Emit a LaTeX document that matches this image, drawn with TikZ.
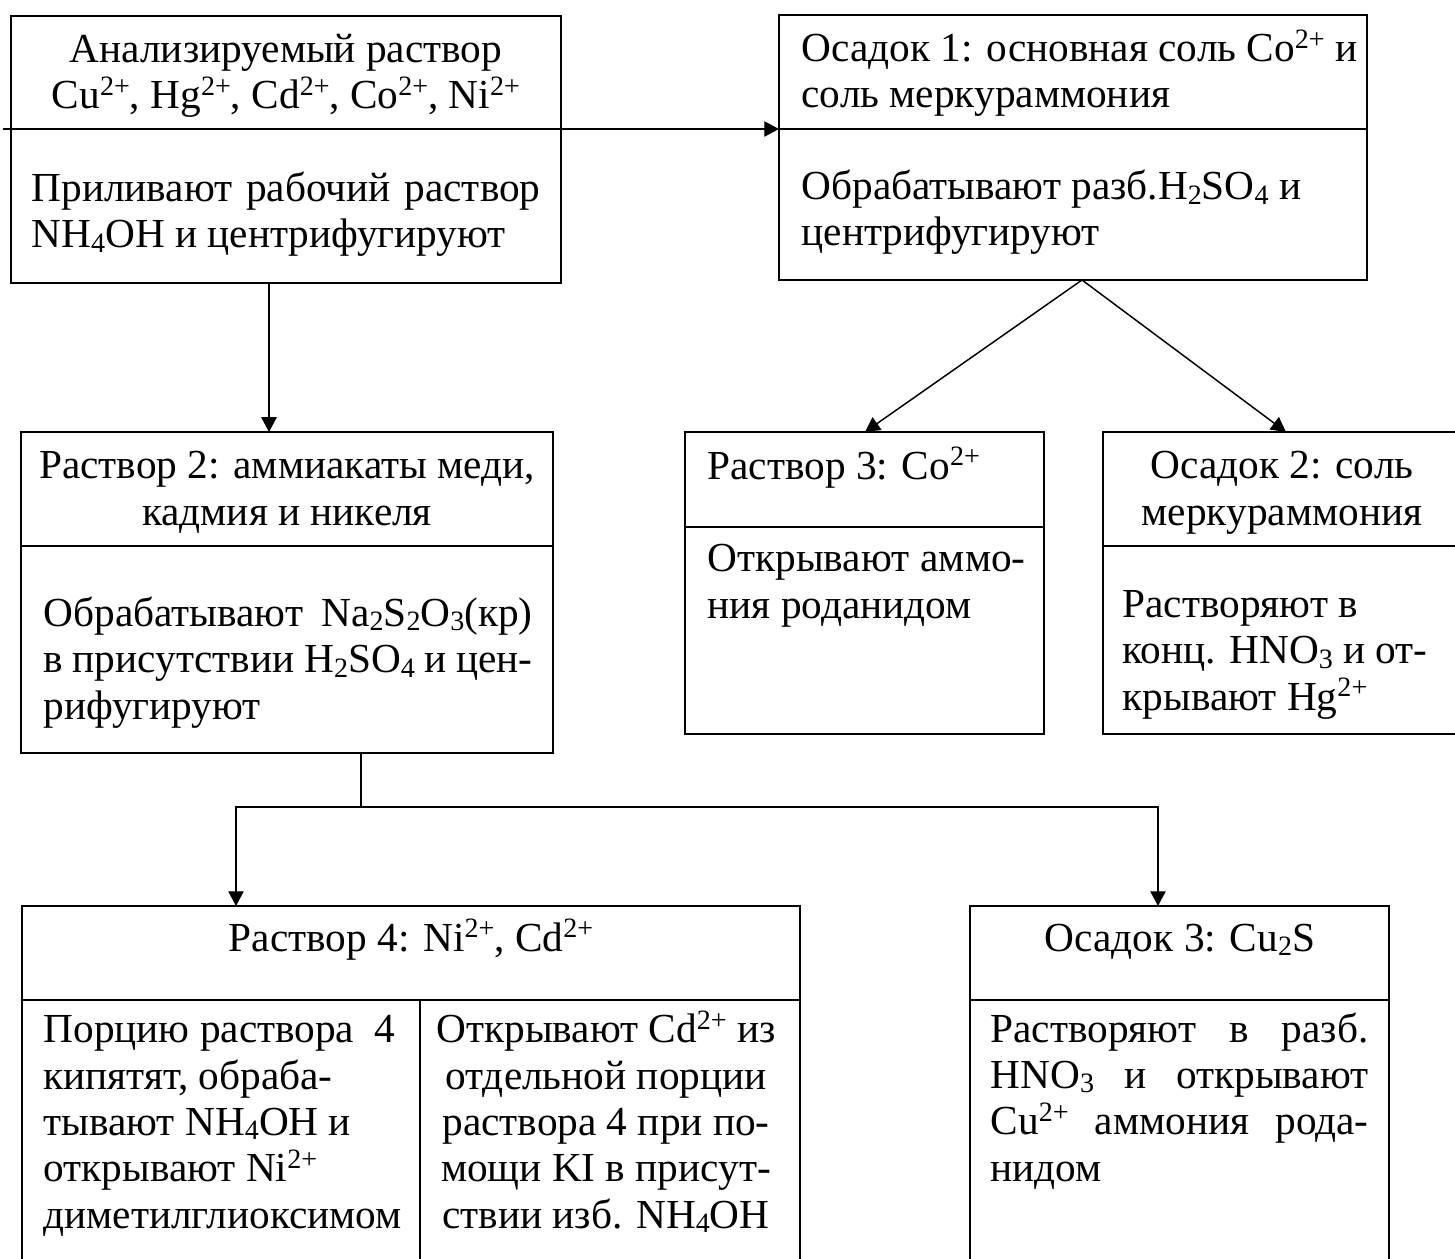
\documentclass[tikz,border=0pt]{standalone}
\usepackage{fontspec}
\setmainfont{Liberation Serif}
\usetikzlibrary{arrows.meta,calc}
\newlength\px
\setlength\px{0.339pt}
% ion charges and stoichiometric indices
\newcommand\ionsup[1]{\raisebox{4.6pt}{\fontsize{9.5}{10}\selectfont #1}}
\newcommand\ionsub[1]{\raisebox{-1.5pt}{\fontsize{9.5}{10}\selectfont #1}}
\newcommand\jline[2]{\makebox[#1\px][s]{#2}}
\begin{document}
\begin{tikzpicture}[x=0.339pt,y=-0.339pt,
  box/.style={draw, line width=0.6pt, rectangle, inner sep=0pt, outer sep=0pt, anchor=north west},
  sep/.style={line width=0.6pt},
  ln/.style={line width=0.5pt},
  arr/.style={line width=0.5pt, -{Triangle[length=5pt,width=5.2pt]}},
  % text blocks are placed by the baseline of their last line
  txt/.style={inner sep=0pt, anchor=base west, align=left, font=\fontsize{14}{15.7}\selectfont},
  ctxt/.style={inner sep=0pt, anchor=base, align=center, font=\fontsize{14}{15.7}\selectfont}]
\useasboundingbox (0,0) rectangle (1455,1259);
\fill[white] (0,0) rectangle (1455,1259);
\clip (0,0) rectangle (1455,1259);

% boxes
\node[box, minimum width=550*\px, minimum height=267*\px] (A) at (11,16) {};
\node[box, minimum width=588*\px, minimum height=265*\px] (B) at (779,15) {};
\node[box, minimum width=532*\px, minimum height=321*\px] (C) at (21,432) {};
\node[box, minimum width=359*\px, minimum height=302*\px] (D) at (685,432) {};
\node[box, minimum width=359*\px, minimum height=302*\px] (E) at (1103,432) {};
\node[box, minimum width=778*\px, minimum height=380*\px] (F) at (22,906) {};
\node[box, minimum width=419*\px, minimum height=380*\px] (G) at (970,906) {};

% dividers between title and procedure
\coordinate (divA) at (0,129);
\coordinate (divC) at (0,546);
\coordinate (divD) at (0,527);
\coordinate (divF) at (0,1000);
\coordinate (colF) at (420,0);
\draw[sep] (divA -| A.west) -- (divA -| A.east);
\draw[sep] (divA -| B.west) -- (divA -| B.east);
\draw[sep] (divC -| C.west) -- (divC -| C.east);
\draw[sep] (divD -| D.west) -- (divD -| D.east);
\draw[sep] (divC -| E.west) -- (divC -| E.east);
\draw[sep] (divF -| F.west) -- (divF -| F.east);
\draw[sep] (divF -| G.west) -- (divF -| G.east);
\draw[sep] (divF -| colF) -- (F.south -| colF);

% texts
\node[ctxt] (tA1) at (286,109) {Анализируемый раствор\\Cu\ionsup{2+}, Hg\ionsup{2+}, Cd\ionsup{2+}, Co\ionsup{2+}, Ni\ionsup{2+}};
\node[txt] (tA2) at (31,248) {\jline{509}{Приливают рабочий раствор}\\NH\ionsub{4}OH и центрифугируют};

\node[txt] (tB1) at (801,108) {Осадок 1: основная соль Co\ionsup{2+} и\\соль меркураммония};
\node[txt] (tB2) at (801,246) {Обрабатывают разб.H\ionsub{2}SO\ionsub{4} и\\центрифугируют};

\node[ctxt] (tC1) at (287,525) {Раствор 2: аммиакаты меди,\\кадмия и никеля};
\node[txt] (tC2) at (43,719) {\jline{489}{Обрабатывают Na\ionsub{2}S\ionsub{2}O\ionsub{3}(кр)}\\\jline{489}{в присутствии H\ionsub{2}SO\ionsub{4} и цен-}\\рифугируют};

\node[txt] (tD1) at (707,479) {Раствор 3: Co\ionsup{2+}};
\node[txt] (tD2) at (707,618) {\jline{318}{Открывают аммо-}\\ния роданидом};

\node[ctxt] (tE1) at (1282,525) {Осадок 2: соль\\меркураммония};
\node[txt] (tE2) at (1122,710) {Растворяют в\\конц. HNO\ionsub{3} и от-\\крывают Hg\ionsup{2+}};

\node[ctxt] (tF1) at (411,951) {Раствор 4: Ni\ionsup{2+}, Cd\ionsup{2+}};
\node[txt] (tF2) at (43,1228) {Порцию раствора\ \ 4\\кипятят, обраба-\\тывают NH\ionsub{4}OH и\\открывают Ni\ionsup{2+}\\диметилглиоксимом};
\node[ctxt] (tF3) at (606,1228) {Открывают Cd\ionsup{2+} из\\отдельной порции\\раствора 4 при по-\\мощи KI в присут-\\ствии изб. NH\ionsub{4}OH};

\node[ctxt] (tG1) at (1180,951) {Осадок 3: Cu\ionsub{2}S};
\node[txt] (tG2) at (990,1181) {\jline{378}{Растворяют в разб.}\\\jline{378}{HNO\ionsub{3} и открывают}\\\jline{378}{Cu\ionsup{2+} аммония рода-}\\нидом};

% connectors
\coordinate (lstart) at (3,129);
\draw[arr] (lstart) -- (lstart -| B.west);
\coordinate (acx) at (269,0);
\draw[arr] (A.south -| acx) -- (C.north -| acx);
\coordinate (split) at (1082,0);
\coordinate (dx) at (865,0);
\coordinate (ex) at (1286,0);
\draw[arr] (B.south -| split) -- (D.north -| dx);
\draw[arr] (B.south -| split) -- (E.north -| ex);
\coordinate (fork) at (361,807);
\coordinate (fx) at (236,0);
\coordinate (gx) at (1158,0);
\draw[ln] (C.south -| fork) -- (fork);
\draw[arr] (fork) -| (F.north -| fx);
\draw[arr] (fork) -| (G.north -| gx);
\end{tikzpicture}
\end{document}
